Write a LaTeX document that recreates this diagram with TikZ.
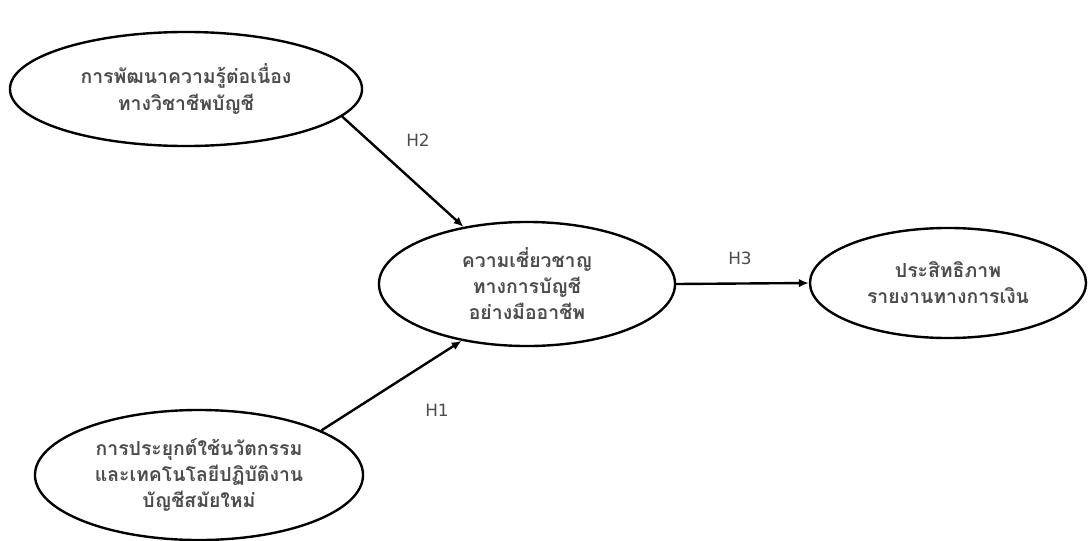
\documentclass[tikz,border=0pt]{standalone}
\usepackage{fontspec}
\usepackage{tikz}
\usetikzlibrary{shapes.geometric,arrows.meta}
\newfontfamily\thaifont[Script=Thai]{Loma}
\setmainfont{DejaVu Sans}

\tikzset{
    var/.style={shape=ellipse, draw=black, line width=1.7pt, inner sep=0pt,
        align=center, font=\thaifont\bfseries\fontsize{13.8}{18.5}\selectfont, text=black!70},
    hyp/.style={font=\fontsize{12}{14}\selectfont, text=black!70},
    link/.style={-{Latex[length=7pt,width=6pt]}, line width=1.7pt}
}

\begin{document}
\begin{tikzpicture}[x=0.025cm, y=-0.025cm]
    \useasboundingbox (0,0) rectangle (1091,540);
    \node[var, minimum width=8.8cm, minimum height=2.85cm] at (186,89) (CPD) {การพัฒนาความรู้ต่อเนื่อง\\ทางวิชาชีพบัญชี};
    \node[var, minimum width=7.4cm, minimum height=3.1cm] at (527,284) (EXP) {ความเชี่ยวชาญ\\ทางการบัญชี\\อย่างมืออาชีพ};
    \node[var, minimum width=6.9cm, minimum height=2.75cm] at (948,283) (EFF) {ประสิทธิภาพ\\รายงานทางการเงิน};
    \node[var, minimum width=8.2cm, minimum height=3.25cm] at (199,475) (INN) {การประยุกต์ใช้นวัตกรรม\\และเทคโนโลยีปฏิบัติงาน\\บัญชีสมัยใหม่};
    \path [link] (CPD.-10) edge (EXP.138.6);
    \path [link] (INN.20.8) edge (EXP.221.4);
    \path [link] (EXP.east) edge (EFF.west);
    \node[hyp] at (418,140) (H2) {H2};
    \node[hyp] at (437,410) (H1) {H1};
    \node[hyp] at (740,258) (H3) {H3};
\end{tikzpicture}
\end{document}
